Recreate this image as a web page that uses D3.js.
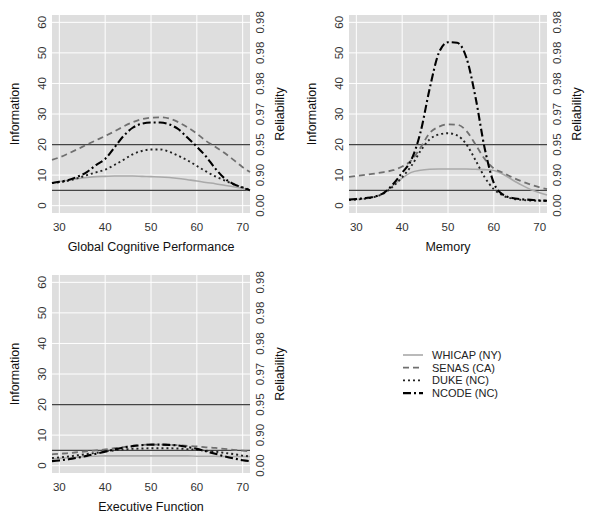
<!DOCTYPE html>
<html>
<head>
<meta charset="utf-8">
<script src="https://cdn.jsdelivr.net/npm/d3@7"></script>
<style>
  body { margin: 0; background: #fff; }
  svg { font-family: "Liberation Sans", Arial, sans-serif; }
</style>
</head>
<body>
<svg width="600" height="526"></svg>
<script>
// x positions of the information curves (same for every panel)
const xGrid = [28.4, 30, 32, 34, 36, 38, 40, 42, 44, 46, 48, 50, 52, 54, 56, 58, 60, 62, 64, 66, 68, 70, 71.6];

// Global Cognitive Performance
const gcpWhicap = [7.4, 7.9, 8.3, 8.8, 9.2, 9.5, 9.6, 9.7, 9.7, 9.7, 9.6, 9.5, 9.4, 9.2, 8.9, 8.5, 8.1, 7.6, 7.2, 6.7, 6.2, 5.6, 5.0];
const gcpSenas  = [15.0, 15.8, 17.1, 18.5, 20.0, 21.4, 22.8, 24.3, 25.9, 27.3, 28.3, 28.8, 28.9, 28.5, 27.3, 25.6, 23.6, 21.2, 19.3, 17.3, 15.0, 12.6, 11.0];
const gcpDuke   = [7.4, 7.7, 8.2, 9.0, 10.0, 10.9, 11.8, 13.3, 15.0, 16.8, 17.9, 18.4, 18.4, 17.6, 16.3, 14.8, 13.0, 11.2, 9.6, 8.3, 7.0, 6.0, 5.2];
const gcpNcode  = [7.4, 7.8, 8.4, 9.5, 11.0, 13.3, 15.3, 19.0, 22.8, 25.5, 26.8, 27.2, 27.2, 26.6, 25.0, 22.2, 19.3, 16.1, 12.2, 9.0, 7.1, 5.9, 5.0];

// Memory
const memWhicap = [1.8, 2.0, 2.3, 2.8, 4.2, 6.6, 9.0, 10.9, 11.6, 11.9, 12.0, 12.0, 12.0, 12.0, 11.9, 11.8, 11.5, 10.3, 8.5, 6.8, 5.3, 4.2, 3.5];
const memSenas  = [9.4, 9.7, 10.1, 10.5, 11.0, 11.6, 12.8, 14.8, 19.0, 23.8, 25.8, 26.6, 26.5, 24.5, 20.0, 15.3, 12.2, 10.8, 9.3, 8.0, 6.9, 6.0, 5.4];
const memDuke   = [1.8, 2.0, 2.3, 2.9, 4.0, 6.3, 9.3, 13.0, 17.9, 21.7, 23.3, 23.7, 23.0, 20.1, 14.9, 9.3, 5.4, 3.3, 2.3, 1.9, 1.7, 1.6, 1.6];
const memNcode  = [2.0, 2.2, 2.5, 3.0, 4.2, 7.0, 10.8, 15.0, 24.0, 38.3, 50.0, 53.5, 53.3, 48.5, 35.5, 18.8, 7.4, 3.6, 2.5, 2.1, 1.9, 1.7, 1.6];

// Executive Function
const exfWhicap = [2.2, 2.4, 2.6, 2.8, 3.0, 3.1, 3.2, 3.2, 3.2, 3.2, 3.2, 3.2, 3.2, 3.2, 3.2, 3.2, 3.1, 3.1, 3.1, 3.0, 3.0, 3.0, 3.0];
const exfSenas  = [3.7, 3.9, 4.1, 4.4, 4.7, 5.0, 5.3, 5.7, 6.1, 6.5, 6.8, 6.9, 6.9, 6.8, 6.7, 6.5, 6.3, 6.0, 5.8, 5.5, 5.2, 4.9, 4.7];
const exfDuke   = [2.5, 2.7, 3.0, 3.4, 3.8, 4.2, 4.6, 5.0, 5.3, 5.5, 5.6, 5.7, 5.7, 5.7, 5.6, 5.4, 5.2, 4.9, 4.6, 4.2, 3.8, 3.3, 3.0];
const exfNcode  = [1.5, 1.7, 2.1, 2.6, 3.2, 3.9, 4.6, 5.3, 5.9, 6.4, 6.7, 6.9, 6.9, 6.8, 6.6, 6.1, 5.5, 4.7, 3.9, 3.1, 2.4, 1.8, 1.5];

const seriesNames = ["WHICAP (NY)", "SENAS (CA)", "DUKE (NC)", "NCODE (NC)"];
const panelTitles = ["Global Cognitive Performance", "Memory", "Executive Function"];
const xTicks = [30, 40, 50, 60, 70];
const yTicks = [0, 10, 20, 30, 40, 50, 60];
const reliabilityLabels = ["0.00", "0.90", "0.95", "0.97", "0.98", "0.98", "0.98"];
const refLines = [5, 20];

const svg = d3.select("svg");

// line looks, in series order
const styles = [
  { color: "#a9a9a9", width: 1.6, dash: null },
  { color: "#707070", width: 1.8, dash: "6,4" },
  { color: "#222", width: 1.9, dash: "2,3" },
  { color: "#000", width: 2.1, dash: "8,3,2,3" }
];

const panelSeries = [
  [gcpWhicap, gcpSenas, gcpDuke, gcpNcode],
  [memWhicap, memSenas, memDuke, memNcode],
  [exfWhicap, exfSenas, exfDuke, exfNcode]
];
const origins = [[52, 15], [349, 15], [52, 275]];
const size = 198;

const x = d3.scaleLinear().domain([28.4, 71.6]).range([0, size]);
const y = d3.scaleLinear().domain([-2.4, 62.4]).range([size, 0]);

const line = d3.line()
  .x((d, i) => x(xGrid[i]))
  .y(d => y(d))
  .curve(d3.curveMonotoneX);

panelSeries.forEach((series, p) => {
  const g = svg.append("g")
    .attr("transform", `translate(${origins[p][0]},${origins[p][1]})`);

  // gray panel with white grid
  g.append("rect")
    .attr("width", size).attr("height", size)
    .attr("fill", "#dedede");

  g.selectAll(".vgrid").data(xTicks).enter().append("line")
    .attr("x1", d => x(d)).attr("x2", d => x(d))
    .attr("y1", 0).attr("y2", size)
    .attr("stroke", "#fff").attr("stroke-width", 1);

  g.selectAll(".hgrid").data(yTicks).enter().append("line")
    .attr("x1", 0).attr("x2", size)
    .attr("y1", d => y(d)).attr("y2", d => y(d))
    .attr("stroke", "#fff").attr("stroke-width", 1);

  // reliability reference lines
  g.selectAll(".ref").data(refLines).enter().append("line")
    .attr("x1", 0).attr("x2", size)
    .attr("y1", d => y(d)).attr("y2", d => y(d))
    .attr("stroke", "#444").attr("stroke-width", 1.3);

  // curves
  series.forEach((vals, s) => {
    g.append("path")
      .datum(vals)
      .attr("d", line)
      .attr("fill", "none")
      .attr("stroke", styles[s].color)
      .attr("stroke-width", styles[s].width)
      .attr("stroke-dasharray", styles[s].dash);
  });

  // x tick labels
  g.selectAll(".xt").data(xTicks).enter().append("text")
    .attr("x", d => x(d)).attr("y", size + 18)
    .attr("text-anchor", "middle")
    .attr("font-size", 11.5).attr("fill", "#333")
    .text(d => d);

  g.append("text")
    .attr("x", size / 2).attr("y", size + 38)
    .attr("text-anchor", "middle")
    .attr("font-size", 12.5).attr("fill", "#111")
    .text(panelTitles[p]);

  // left tick labels (rotated)
  g.selectAll(".yt").data(yTicks).enter().append("text")
    .attr("transform", d => `translate(-6,${y(d)}) rotate(-90)`)
    .attr("text-anchor", "middle")
    .attr("font-size", 11.5).attr("fill", "#333")
    .text(d => d);

  g.append("text")
    .attr("transform", `translate(-33,${size / 2}) rotate(-90)`)
    .attr("text-anchor", "middle")
    .attr("font-size", 12.5).attr("fill", "#111")
    .text("Information");

  // right reliability labels
  g.selectAll(".rt").data(yTicks).enter().append("text")
    .attr("transform", d => `translate(${size + 14},${y(d)}) rotate(-90)`)
    .attr("text-anchor", "middle")
    .attr("font-size", 11.5).attr("fill", "#333")
    .text((d, i) => reliabilityLabels[i]);

  g.append("text")
    .attr("transform", `translate(${size + 34},${size / 2}) rotate(-90)`)
    .attr("text-anchor", "middle")
    .attr("font-size", 12.5).attr("fill", "#111")
    .text("Reliability");
});

// legend
const legend = svg.append("g").attr("transform", "translate(403,355)");
seriesNames.forEach((name, s) => {
  const row = legend.append("g").attr("transform", `translate(0,${s * 12.7})`);
  row.append("line")
    .attr("x1", 0).attr("x2", 20)
    .attr("stroke", styles[s].color)
    .attr("stroke-width", styles[s].width)
    .attr("stroke-dasharray", styles[s].dash);
  row.append("text")
    .attr("x", 29).attr("y", 4)
    .attr("font-size", 11).attr("fill", "#222")
    .text(name);
});
</script>
</body>
</html>
